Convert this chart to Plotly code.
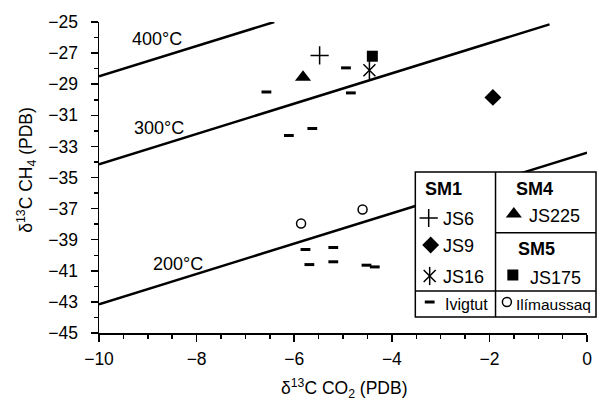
import plotly.graph_objects as go

# ---------------- data ----------------
js6_x = [-5.48]
js6_y = [-27.15]
js9_x = [-1.93]
js9_y = [-29.85]
js16_x = [-4.46]
js16_y = [-28.1]
js225_x = [-5.82]
js225_y = [-28.55]
js175_x = [-4.40]
js175_y = [-27.2]
ivigtut_x = [-6.57, -4.94, -4.84, -6.11, -5.63, -5.77, -5.2, -5.69, -5.2, -4.52, -4.35]
ivigtut_y = [-29.5, -27.95, -29.56, -32.3, -31.85, -39.63, -39.5, -40.6, -40.42, -40.64, -40.75]
ilim_x = [-5.86, -4.6]
ilim_y = [-37.96, -37.06]

isotherm_labels = ["400°C", "300°C", "200°C"]
isotherm_x = [[-10, -6.41], [-10, -0.77], [-10, 0]]
isotherm_y = [[-28.5, -25.0], [-34.15, -25.15], [-43.15, -33.4]]
label_x = [-8.82, -8.77, -8.39]
label_y = [-26.11, -31.81, -40.57]

x_ticks = [-10, -8, -6, -4, -2, 0]
y_ticks = [-45, -43, -41, -39, -37, -35, -33, -31, -29, -27, -25]

FONT = "Liberation Sans, Arial, sans-serif"
BLACK = "black"

fig = go.Figure()

# isotherm lines
for xs, ys in zip(isotherm_x, isotherm_y):
    fig.add_trace(go.Scatter(x=xs, y=ys, mode="lines",
                             line=dict(color=BLACK, width=2.5),
                             hoverinfo="skip"))

def mk(symbol, size, lw=1.5, color=BLACK):
    return dict(symbol=symbol, size=size, color=color,
                line=dict(color=color, width=lw))

fig.add_trace(go.Scatter(x=ivigtut_x, y=ivigtut_y, mode="markers",
                         marker=mk("line-ew", 7, 3)))
fig.add_trace(go.Scatter(x=ilim_x, y=ilim_y, mode="markers",
                         marker=mk("circle-open", 9, 1.5)))
fig.add_trace(go.Scatter(x=js6_x, y=js6_y, mode="markers",
                         marker=mk("cross-thin", 13, 1.5)))
fig.add_trace(go.Scatter(x=js9_x, y=js9_y, mode="markers",
                         marker=mk("diamond", 13, 0)))
fig.add_trace(go.Scatter(x=js16_x, y=js16_y, mode="markers",
                         marker=mk("x-thin", 12, 1.5)))
fig.add_trace(go.Scatter(x=js16_x, y=js16_y, mode="markers",
                         marker=mk("line-ns", 13, 1.5)))
fig.add_trace(go.Scatter(x=js225_x, y=js225_y, mode="markers",
                         marker=mk("triangle-up", 14, 0)))
fig.add_trace(go.Scatter(x=js175_x, y=js175_y, mode="markers",
                         marker=mk("square", 11, 0)))

# ---------------- custom legend (pixel-like coordinates on x2/y2) ----------------
box = dict(x0=418.5, x1=601, y0=172, y1=317)
fig.add_trace(go.Scatter(x=[box["x0"], box["x1"], box["x1"], box["x0"], box["x0"]],
                         y=[box["y0"], box["y0"], box["y1"], box["y1"], box["y0"]],
                         mode="lines", fill="toself", fillcolor="white",
                         line=dict(width=0, color="white"),
                         xaxis="x2", yaxis="y2", hoverinfo="skip"))

legend_syms = [
    ("cross-thin", 13, 1.5, 432, 218),
    ("diamond", 13, 0, 434, 245),
    ("x-thin", 12, 1.5, 433, 276),
    ("line-ns", 13, 1.5, 433, 276),
    ("triangle-up", 14, 0, 518, 214),
    ("square", 11, 0, 517, 275),
    ("line-ew", 7, 3, 433, 302),
    ("circle-open", 9, 1.5, 511, 302),
]
for sym, size, lw, px, py in legend_syms:
    fig.add_trace(go.Scatter(x=[px], y=[py], mode="markers",
                             marker=mk(sym, size, lw), cliponaxis=False,
                             xaxis="x2", yaxis="y2", hoverinfo="skip"))

line_style = dict(color=BLACK, width=1.5)
shapes = [
    dict(type="rect", xref="x2", yref="y2", x0=box["x0"], x1=box["x1"],
         y0=box["y0"], y1=box["y1"], line=line_style, layer="above"),
    dict(type="line", xref="x2", yref="y2", x0=499.5, x1=499.5, y0=172, y1=317,
         line=line_style, layer="above"),
    dict(type="line", xref="x2", yref="y2", x0=418.5, x1=601, y0=291, y1=291,
         line=line_style, layer="above"),
    dict(type="line", xref="x2", yref="y2", x0=499.5, x1=601, y0=232.7, y1=232.7,
         line=line_style, layer="above"),
]

annotations = []
legend_texts = [
    ("<b>SM1</b>", 426, 189, 18),
    ("<b>SM4</b>", 518, 189, 18),
    ("<b>SM5</b>", 520, 249, 18),
    ("JS6", 444, 219, 18),
    ("JS9", 444, 246, 18),
    ("JS16", 444, 277, 18),
    ("JS225", 531, 216, 18),
    ("JS175", 532, 278, 18),
    ("Ivigtut", 446, 304, 16),
    ("Ilímaussaq", 518, 304, 15.5),
]
for txt, px, py, fs in legend_texts:
    annotations.append(dict(text=txt, x=px, y=py, xref="x2", yref="y2",
                            xanchor="left", yanchor="middle", showarrow=False,
                            font=dict(family=FONT, size=fs, color=BLACK)))

for t, lx, ly in zip(isotherm_labels, label_x, label_y):
    annotations.append(dict(text=t, x=lx, y=ly, xref="x", yref="y",
                            xanchor="center", yanchor="middle", showarrow=False,
                            font=dict(family=FONT, size=18, color=BLACK)))

# axis titles (paper coordinates; plot area spans pixels 99..602 x 22..333)
annotations.append(dict(text="δ<sup>13</sup>C CH<sub>4</sub> (PDB)",
                        x=(25 - 99) / 503, y=(333 - 170) / 311,
                        xref="paper", yref="paper", textangle=-90, showarrow=False,
                        xanchor="center", yanchor="middle",
                        font=dict(family=FONT, size=17.5, color=BLACK)))
annotations.append(dict(text="δ<sup>13</sup>C CO<sub>2</sub> (PDB)",
                        x=(346 - 99) / 503, y=(333 - 388) / 311,
                        xref="paper", yref="paper", showarrow=False,
                        xanchor="center", yanchor="middle",
                        font=dict(family=FONT, size=17.5, color=BLACK)))

axis_common = dict(showline=True, linecolor=BLACK, linewidth=1.5,
                   ticks="outside", ticklen=7, tickwidth=1.5, tickcolor=BLACK,
                   showgrid=False, zeroline=False,
                   tickfont=dict(family=FONT, size=17.5, color=BLACK))

fig.update_layout(
    width=603, height=400,
    margin=dict(l=99, r=1, t=22, b=67),
    plot_bgcolor="rgba(0,0,0,0)", paper_bgcolor="white",
    showlegend=False,
    xaxis=dict(domain=[0, 493 / 503], range=[-10, 0], tickvals=x_ticks,
               minor=dict(dtick=0.5, tick0=-10, ticks="outside", ticklen=4,
                          tickwidth=1.5, tickcolor=BLACK),
               ticklabelstandoff=2,
               **axis_common),
    yaxis=dict(domain=[0, 1], range=[-45, -25], tickvals=y_ticks,
               minor=dict(dtick=1, tick0=-45, ticks="outside", ticklen=4,
                          tickwidth=1.5, tickcolor=BLACK),
               ticklabelstandoff=9,
               **axis_common),
    xaxis2=dict(domain=[0, 1], range=[99, 602], anchor="y2", visible=False,
                fixedrange=True),
    yaxis2=dict(domain=[0, 1], range=[333, 22], anchor="x2", visible=False,
                fixedrange=True),
    shapes=shapes,
    annotations=annotations,
)

fig.write_html("out.html",
               config={"displayModeBar": False, "staticPlot": True},
               post_script="document.body.style.margin='0';document.body.style.overflow='hidden';")
